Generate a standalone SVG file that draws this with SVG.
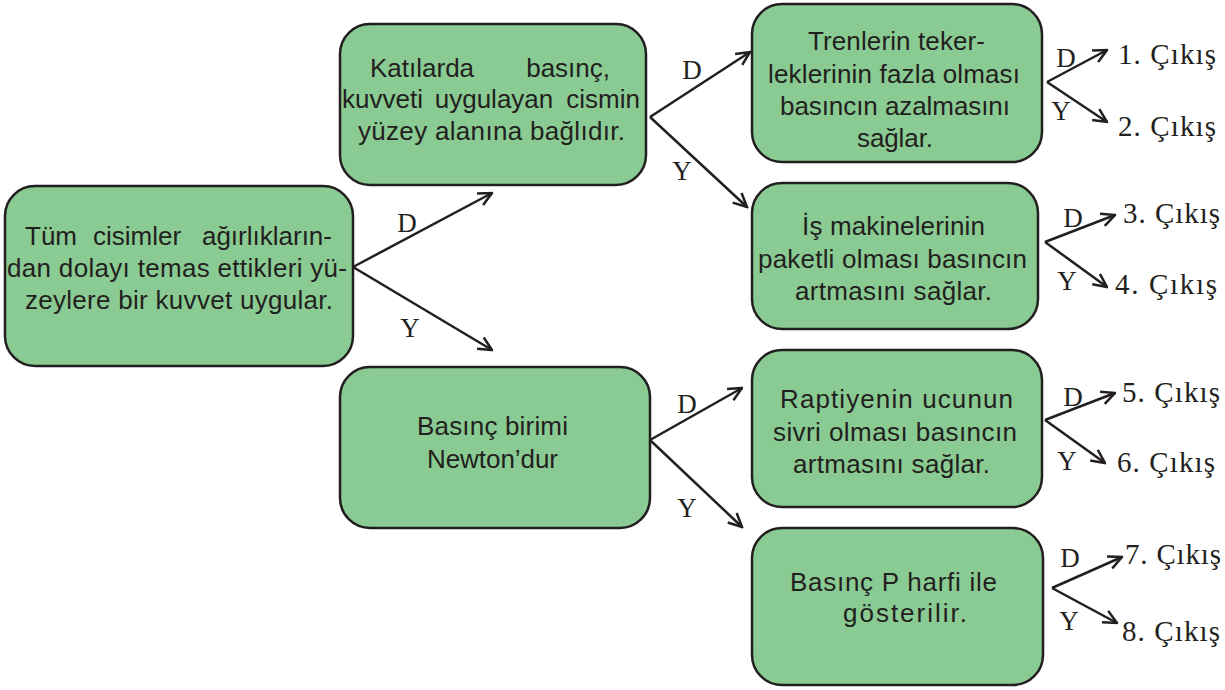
<svg xmlns="http://www.w3.org/2000/svg" width="1225" height="690" viewBox="0 0 1225 690">
<defs>
<style>
.box{fill:#89CB92;stroke:#231F20;stroke-width:2.5}
.t{font-family:"Liberation Sans",Arial,sans-serif;font-size:26px;fill:#231F20}
.m{text-anchor:middle}
.e{text-anchor:end}
.lbl{font-family:"Liberation Serif","Times New Roman",serif;font-size:27px;fill:#231F20;text-anchor:middle}
.out{font-family:"Liberation Serif","Times New Roman",serif;font-size:29px;fill:#231F20}
.c line{stroke:#231F20;stroke-width:2.5;fill:none;marker-end:url(#arr)}
</style>
<marker id="arr" viewBox="0 0 16 16" refX="14.5" refY="8" markerWidth="16" markerHeight="16" markerUnits="userSpaceOnUse" orient="auto">
<path d="M1,1.5 L14.5,8 L1,14.5" fill="none" stroke="#231F20" stroke-width="2.5"/>
</marker>
</defs>
<rect width="1225" height="690" fill="#FFFFFF"/>

<g id="connectors" class="c">
<line x1="353" y1="267" x2="492" y2="193"/>
<line x1="353" y1="267" x2="492" y2="350"/>
<line x1="650" y1="117" x2="750" y2="52"/>
<line x1="650" y1="117" x2="747" y2="207"/>
<line x1="650" y1="440" x2="742" y2="388"/>
<line x1="650" y1="440" x2="742" y2="527"/>
<line x1="1047" y1="82" x2="1107" y2="50"/>
<line x1="1047" y1="82" x2="1107" y2="122"/>
<line x1="1045" y1="242" x2="1115" y2="215"/>
<line x1="1045" y1="242" x2="1107" y2="287"/>
<line x1="1045" y1="420" x2="1115" y2="393"/>
<line x1="1045" y1="420" x2="1105" y2="463"/>
<line x1="1052" y1="588" x2="1122" y2="557"/>
<line x1="1052" y1="588" x2="1117" y2="623"/>
</g>

<g id="labels">
<text class="lbl" x="407" y="232">D</text>
<text class="lbl" x="410" y="337">Y</text>
<text class="lbl" x="692" y="79">D</text>
<text class="lbl" x="682" y="180">Y</text>
<text class="lbl" x="687" y="413">D</text>
<text class="lbl" x="687" y="517">Y</text>
<text class="lbl" x="1066" y="67">D</text>
<text class="lbl" x="1061" y="120">Y</text>
<text class="lbl" x="1073" y="227">D</text>
<text class="lbl" x="1067" y="290">Y</text>
<text class="lbl" x="1073" y="406">D</text>
<text class="lbl" x="1067" y="470">Y</text>
<text class="lbl" x="1070" y="567">D</text>
<text class="lbl" x="1069" y="630">Y</text>
</g>

<g id="root">
<rect class="box" x="5" y="186" width="348" height="180" rx="30"/>
<text class="t" y="245"><tspan x="25">Tüm</tspan><tspan x="137" class="m">cisimler</tspan><tspan x="332" class="e">ağırlıkların-</tspan></text>
<text class="t m" x="177" y="277" textLength="340" lengthAdjust="spacing">dan dolayı temas ettikleri yü-</text>
<text class="t m" x="179" y="309" textLength="308" lengthAdjust="spacing">zeylere bir kuvvet uygular.</text>
</g>

<g id="n-katilarda">
<rect class="box" x="340" y="24" width="306" height="161" rx="30"/>
<text class="t" y="77"><tspan x="370">Katılarda</tspan><tspan x="610" class="e">basınç,</tspan></text>
<text class="t" y="108"><tspan x="342">kuvveti</tspan><tspan x="494" class="m">uygulayan</tspan><tspan x="640" class="e">cismin</tspan></text>
<text class="t m" x="491.5" y="140" textLength="267" lengthAdjust="spacing">yüzey alanına bağlıdır.</text>
</g>

<g id="n-birim">
<rect class="box" x="340" y="367" width="310" height="161" rx="30"/>
<text class="t m" x="492.5" y="435" textLength="151" lengthAdjust="spacing">Basınç birimi</text>
<text class="t m" x="492.5" y="468" textLength="131" lengthAdjust="spacing">Newton’dur</text>
</g>

<g id="n-tren">
<rect class="box" x="752" y="4" width="290" height="158" rx="30"/>
<text class="t m" x="896.5" y="50" textLength="177" lengthAdjust="spacing">Trenlerin teker-</text>
<text class="t m" x="894" y="83" textLength="252" lengthAdjust="spacing">leklerinin fazla olması</text>
<text class="t m" x="895" y="115" textLength="230" lengthAdjust="spacing">basıncın azalmasını</text>
<text class="t m" x="895" y="147" textLength="76" lengthAdjust="spacing">sağlar.</text>
</g>

<g id="n-is">
<rect class="box" x="752" y="183" width="286" height="146" rx="30"/>
<text class="t m" x="893.5" y="235" textLength="183" lengthAdjust="spacing">İş makinelerinin</text>
<text class="t m" x="892.5" y="268" textLength="269" lengthAdjust="spacing">paketli olması basıncın</text>
<text class="t m" x="893.5" y="300" textLength="197" lengthAdjust="spacing">artmasını sağlar.</text>
</g>

<g id="n-raptiye">
<rect class="box" x="752" y="350" width="290" height="157" rx="30"/>
<text class="t m" x="896.5" y="408" textLength="233" lengthAdjust="spacing">Raptiyenin ucunun</text>
<text class="t m" x="895" y="441" textLength="244" lengthAdjust="spacing">sivri olması basıncın</text>
<text class="t m" x="891.5" y="473" textLength="197" lengthAdjust="spacing">artmasını sağlar.</text>
</g>

<g id="n-harf">
<rect class="box" x="752" y="528" width="291" height="157" rx="30"/>
<text class="t m" x="893.5" y="591" textLength="207" lengthAdjust="spacing">Basınç P harfi ile</text>
<text class="t m" x="905" y="622" textLength="124" lengthAdjust="spacing">gösterilir.</text>
</g>

<g id="outputs">
<text class="out" x="1118" y="64" textLength="98" lengthAdjust="spacing">1. Çıkış</text>
<text class="out" x="1118" y="136" textLength="98" lengthAdjust="spacing">2. Çıkış</text>
<text class="out" x="1123" y="223" textLength="97" lengthAdjust="spacing">3. Çıkış</text>
<text class="out" x="1115" y="294" textLength="102" lengthAdjust="spacing">4. Çıkış</text>
<text class="out" x="1122" y="402" textLength="98" lengthAdjust="spacing">5. Çıkış</text>
<text class="out" x="1117" y="472" textLength="98" lengthAdjust="spacing">6. Çıkış</text>
<text class="out" x="1125" y="564" textLength="96" lengthAdjust="spacing">7. Çıkış</text>
<text class="out" x="1122" y="641" textLength="98" lengthAdjust="spacing">8. Çıkış</text>
</g>
</svg>
